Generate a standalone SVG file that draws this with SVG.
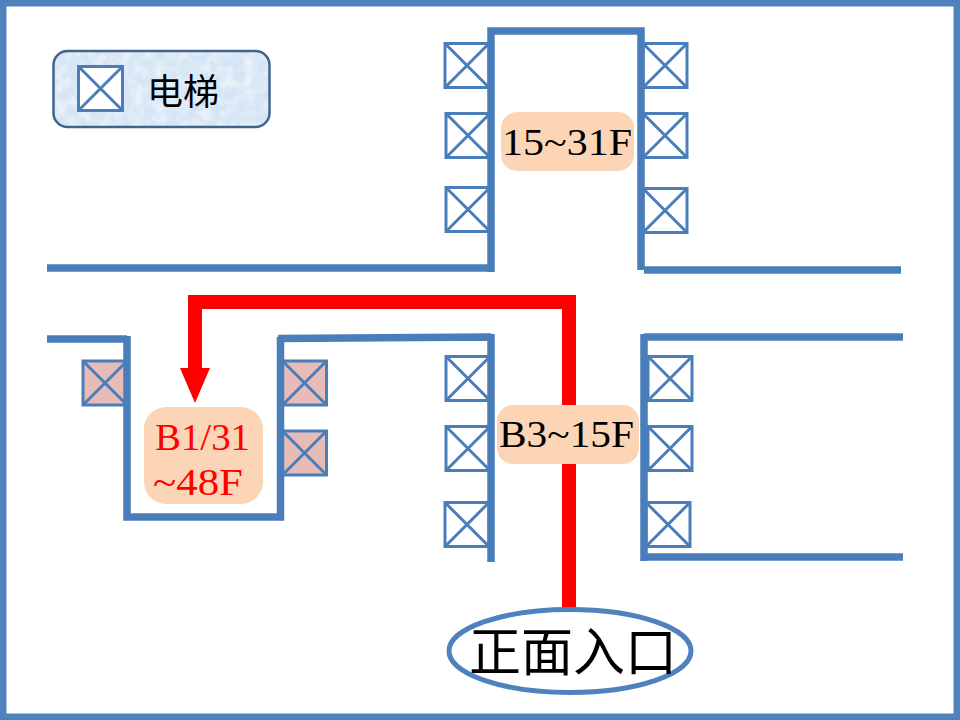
<svg xmlns="http://www.w3.org/2000/svg" width="960" height="720" viewBox="0 0 960 720">
<style>
.wall{fill:none;stroke:#4a7ebb;stroke-width:7.500;stroke-linejoin:miter}
.box{fill:#fff;stroke:#4a7ebb;stroke-width:3}
.box.pink{fill:#e8bcb6}
.x{fill:none;stroke:#4a7ebb;stroke-width:3}
.label{fill:#fbd5b5}
.t{font-family:"Liberation Serif","Noto Serif",serif;font-size:37px;fill:#000;text-anchor:start}
.red{fill:#f00}
.cjk{font-family:"Noto Sans CJK SC","Noto Sans",sans-serif;fill:#000}
</style>
<defs>
<filter id="ice" x="0" y="0" width="100%" height="100%">
<feTurbulence type="fractalNoise" baseFrequency="0.09" numOctaves="3" seed="4" result="n"/>
<feColorMatrix in="n" type="matrix" values="0 0 0 0 1  0 0 0 0 1  0 0 0 0 1  0 0 0 1.200 -0.450" result="w"/>
<feComposite in="w" in2="SourceGraphic" operator="atop"/>
</filter>
<g id="lift"><rect class="box" x="0" y="0" width="44" height="44"/><path class="x" d="M0 0L44 44M44 0L0 44"/></g>
<g id="liftp"><rect class="box pink" x="0" y="0" width="44" height="44"/><path class="x" d="M0 0L44 44M44 0L0 44"/></g>
</defs>
<rect id="background" width="960" height="720" fill="#fff"/>
<rect id="frame" x="3" y="3" width="954" height="714" fill="none" stroke="#4f81bd" stroke-width="7"/>

<g id="legend">
<rect x="53.500" y="51" width="216" height="76" rx="14" fill="#d5e5f5"/>
<rect x="53.500" y="51" width="216" height="76" rx="14" fill="#d5e5f5" filter="url(#ice)"/>
<rect x="53.500" y="51" width="216" height="76" rx="14" fill="none" stroke="#41648f" stroke-width="2.500"/>
<use href="#lift" transform="translate(78.500 66.500)"/>
<text class="cjk" x="147" y="105" font-size="36">电梯</text>
</g>

<g id="lifts-upper">
<use href="#lift" transform="translate(445 43.500)"/>
<use href="#lift" transform="translate(446 113.500)"/>
<use href="#lift" transform="translate(446 187.500)"/>
<use href="#lift" transform="translate(643 43.500)"/>
<use href="#lift" transform="translate(643 113.500)"/>
<use href="#lift" transform="translate(643 188.500)"/>
</g>
<g id="lifts-middle">
<use href="#lift" transform="translate(446 356.500)"/>
<use href="#lift" transform="translate(446 426.500)"/>
<use href="#lift" transform="translate(445 502.500)"/>
<use href="#lift" transform="translate(648 356.500)"/>
<use href="#lift" transform="translate(648 426.500)"/>
<use href="#lift" transform="translate(646 502.500)"/>
</g>
<g id="lifts-low">
<use href="#liftp" transform="translate(83 361)"/>
<use href="#liftp" transform="translate(282.500 361)"/>
<use href="#liftp" transform="translate(282.500 431)"/>
</g>

<g id="connectors">
<path class="wall" d="M47 268H491M491 272V31H641V270M644 270H901"/>
<path class="wall" d="M47 339H127M127 336V517H280.500V337M278 338.500L491 337M491 334V562"/>
<path class="wall" d="M644 337H903M644 334V561M644 557H903"/>
<path class="red" d="M562 609V309H202V368H210L195 403L180 368H188V295H576V609Z"/>
</g>

<g id="node-15-31F">
<rect class="label" x="501" y="112" width="133" height="59" rx="16"/>
<text class="t" x="502" y="155" textLength="130" lengthAdjust="spacingAndGlyphs">15~31F</text>
</g>
<g id="node-B3-15F">
<rect class="label" x="497" y="405" width="142" height="59" rx="16"/>
<text class="t" x="499" y="447" textLength="135" lengthAdjust="spacingAndGlyphs">B3~15F</text>
</g>
<g id="node-B1-48F">
<rect class="label" x="144" y="407" width="119" height="97" rx="22"/>
<text class="t" x="155" y="450" style="fill:#f00" textLength="95" lengthAdjust="spacingAndGlyphs">B1/31</text>
<text class="t" x="153" y="495" style="fill:#f00" textLength="90" lengthAdjust="spacingAndGlyphs">~48F</text>
</g>
<g id="node-entrance">
<ellipse cx="570" cy="651" rx="121" ry="41.500" fill="none" stroke="#4f81bd" stroke-width="5"/>
<text class="cjk" x="469" y="671" font-size="52">正面入口</text>
</g>
</svg>
